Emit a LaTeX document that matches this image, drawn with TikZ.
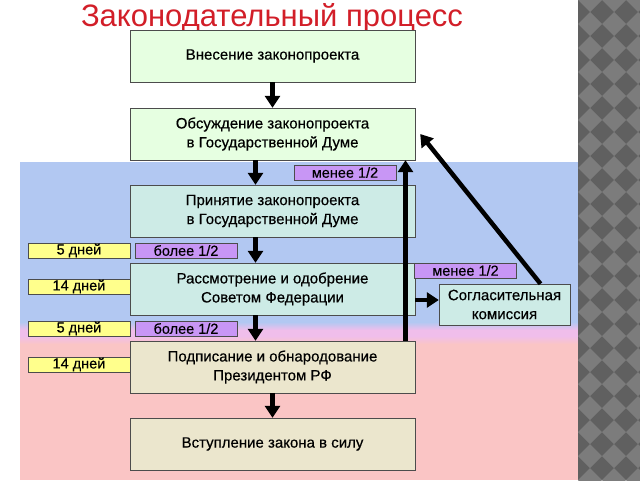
\documentclass[tikz,border=0pt]{standalone}
\usepackage{fontspec}
\setmainfont{Liberation Sans}
\newfontfamily\heavyfont[FakeBold=0.4]{Liberation Sans}
\usetikzlibrary{arrows.meta}

\definecolor{bandblue}{RGB}{178,200,242}
\definecolor{bandpink}{RGB}{240,190,235}
\definecolor{bandred}{RGB}{250,197,197}
\definecolor{boxgreen}{RGB}{230,255,225}
\definecolor{boxteal}{RGB}{205,235,230}
\definecolor{boxbeige}{RGB}{235,230,205}
\definecolor{tagpurple}{RGB}{200,150,245}
\definecolor{tagyellow}{RGB}{255,255,140}
\definecolor{titlered}{RGB}{210,30,40}
\definecolor{patdark}{RGB}{96,96,96}
\definecolor{patlight}{RGB}{124,124,124}

\begin{document}
\begin{tikzpicture}[
  x=1pt, y=-1pt,
  >={Triangle[length=12pt,width=15pt]},
  every node/.style={font=\heavyfont\fontsize{15}{19}\selectfont},
  stage/.style={draw=black!70, minimum width=285pt, minimum height=52pt, align=center, inner sep=0pt},
  tag/.style={draw=black!70, minimum width=102pt, minimum height=15pt, inner sep=0pt, font=\heavyfont\fontsize{14.5}{14}\selectfont},
  flow/.style={->, line width=4.5pt}
]
\useasboundingbox (0,0) rectangle (640,480);

% Background bands
\fill[bandblue] (20,162) rectangle (578,322);
\shade[top color=bandblue, bottom color=bandpink] (20,322) rectangle (578,330);
\fill[bandpink] (20,330) rectangle (578,336);
\shade[top color=bandpink, bottom color=bandred] (20,336) rectangle (578,344);
\fill[bandred] (20,344) rectangle (578,480);

% Right border pattern
\fill[patdark] (578,0) rectangle (640,480);
\begin{scope}
  \clip (578,0) rectangle (640,480);
  \foreach \j in {0,...,20}
    \foreach \i in {0,...,3} {
      \pgfmathsetmacro\cx{590+\i*24}
      \pgfmathsetmacro\cy{\j*24}
      \fill[patlight] (\cx,\cy-12) -- (\cx+12,\cy) -- (\cx,\cy+12) -- (\cx-12,\cy) -- cycle;
    }
\end{scope}

% Title
\node[font=\fontsize{31}{32}\selectfont, text=titlered] (title) at (272,18) {Законодательный процесс};

% Stages
\node[stage, fill=boxgreen] (intro) at (272.5,56) {Внесение законопроекта};
\node[stage, fill=boxgreen] (debate) at (272.5,134) {Обсуждение законопроекта\\в Государственной Думе};
\node[stage, fill=boxteal] (adopt) at (272.5,211) {Принятие законопроекта\\в Государственной Думе};
\node[stage, fill=boxteal] (council) at (272.5,289) {Рассмотрение и одобрение\\Советом Федерации};
\node[stage, fill=boxbeige] (sign) at (272.5,367) {Подписание и обнародование\\Президентом РФ};
\node[stage, fill=boxbeige] (force) at (272.5,444) {Вступление закона в силу};
\node[draw=black!70, fill=boxteal, minimum width=131pt, minimum height=41pt, align=center, inner sep=0pt] (commission) at (504.5,304.5) {Согласительная\\комиссия};

% Tags
\node[tag, fill=tagpurple] (lessdm) at (345,172.5) {менее 1/2};
\node[tag, fill=tagpurple] (lesssf) at (465.5,270.5) {менее 1/2};
\node[tag, fill=tagyellow] (daysa) at (79,250.5) {5 дней};
\node[tag, fill=tagpurple] (morea) at (186,250.5) {более 1/2};
\node[tag, fill=tagyellow] (daysb) at (79,286.5) {14 дней};
\node[tag, fill=tagyellow] (daysc) at (79,328.5) {5 дней};
\node[tag, fill=tagpurple] (moreb) at (186,328.5) {более 1/2};
\node[tag, fill=tagyellow] (daysd) at (79,364.5) {14 дней};

% Arrows
\draw[flow] (intro) -- (debate);
\draw[flow] ([xshift=-17pt]debate.south) -- ([xshift=-17pt]adopt.north);
\draw[flow] ([xshift=-17pt]adopt.south) -- ([xshift=-17pt]council.north);
\draw[flow] ([xshift=-17pt]council.south) -- ([xshift=-17pt]sign.north);
\draw[flow] (sign) -- (force);
\draw[flow] ([xshift=133pt]sign.north) -- ([xshift=133pt]debate.south);
\draw[flow] ([yshift=-11pt]council.east) -- ([yshift=-11pt]council.east -| commission.west);
\draw[flow] ([xshift=36pt]commission.north) -- ([xshift=5pt]debate.east);

\end{tikzpicture}
\end{document}
